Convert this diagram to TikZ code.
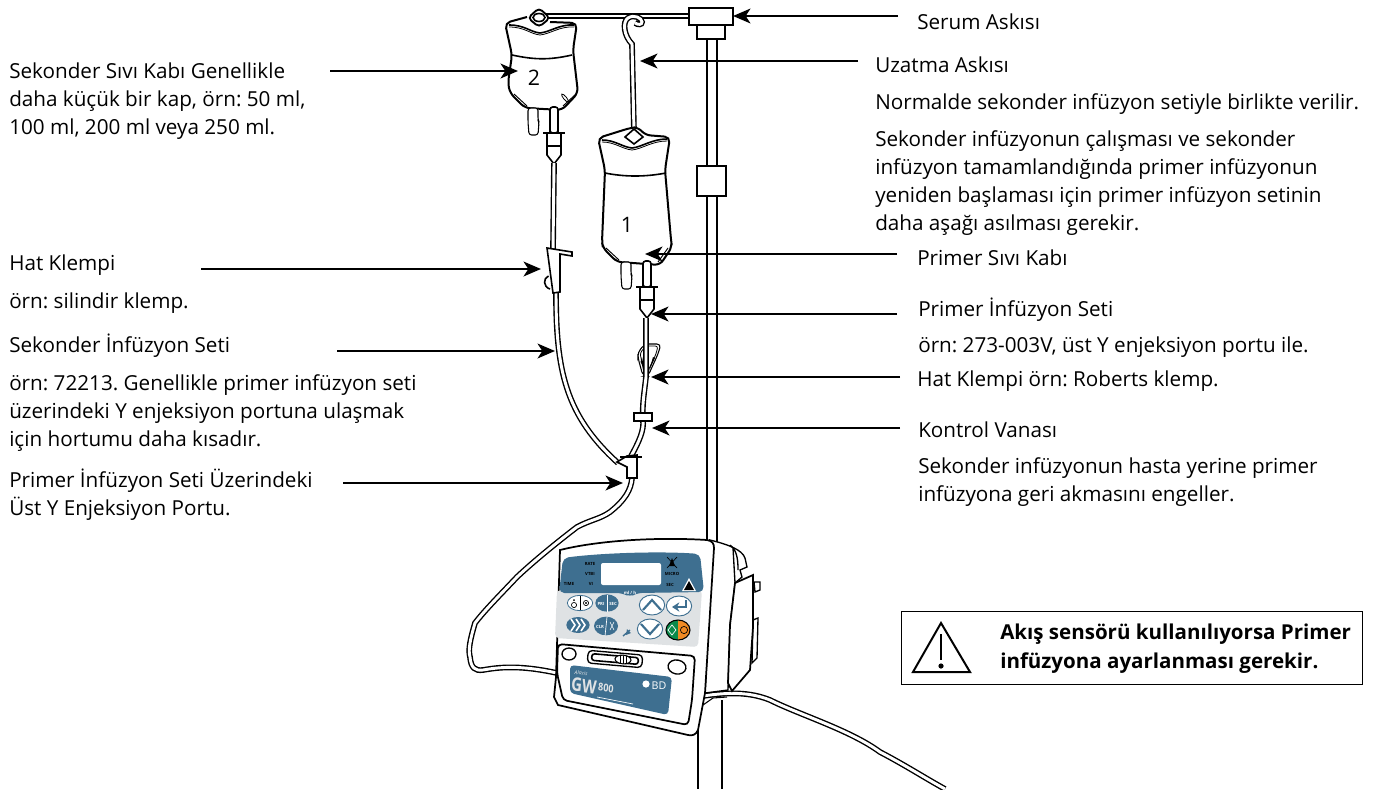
\documentclass[tikz,border=0pt]{standalone}
\usepackage{fontspec}
\setmainfont{Open Sans}
\usepackage{xcolor}
\usetikzlibrary{arrows.meta,calc,positioning,shapes.geometric}
\definecolor{panelblue}{HTML}{3E6F90}
\definecolor{keygrey}{HTML}{DFE2E4}
\definecolor{gogreen}{HTML}{0B8A4B}
\definecolor{stoporange}{HTML}{F08A24}
\newcommand{\dripset}[2]{%
  \begin{scope}[shift={(#1,#2)}]
    \draw[line width=.8pt,fill=white,rounded corners=2pt] (-26,-25) -- (-16,-25) -- (-16,-13) -- (-15,-11) -- (-16,2) -- (-25,2) -- (-26,-11) -- cycle;
    \draw[part,fill=white,rounded corners=2pt] (-4,-26) -- (4,-26) -- (4,0) -- (-4,0) -- cycle;
    \draw[line width=1.4pt] (-4,-12) -- (-4,0) (4,-12) -- (4,0);
    \draw[part,fill=white] (-7,0) -- (7,0) -- (7,22) -- (0,31) -- (-7,22) -- cycle;
    \draw[part] (-7,13) -- (7,13);
    \draw[line width=1.2pt] (-11,0) -- (11,0);
  \end{scope}}
\begin{document}
\frenchspacing
\begin{tikzpicture}[x=0.75pt,y=-0.75pt,>=Latex,
    labeltext/.style={anchor=west,inner sep=0pt,align=left,
      font=\fontsize{15.5}{21.2}\selectfont},
    pointer/.style={line width=2.1pt,-{Stealth[length=13pt,width=11pt,inset=3.5pt]}},
    part/.style={line width=1.2pt},
    tube/.style={line width=1.05pt,double=white,double distance=2.2pt},
    key/.style={ellipse,draw=none,fill=panelblue,inner sep=0pt},
    tinytext/.style={inner sep=0pt,font=\fontsize{3.2}{4}\selectfont\bfseries}]
  \useasboundingbox (0,0) rectangle (1376,789);

  % left column
  \node[labeltext] (secbagtext) at (9,101)
    {Sekonder Sıvı Kabı Genellikle\\daha küçük bir kap, örn: 50 ml,\\100 ml, 200 ml veya 250 ml.};
  \node[labeltext] (clamptext) at (9,265) {Hat Klempi};
  \node[labeltext] (clampnote) at (9,303) {örn: silindir klemp.};
  \node[labeltext] (secsettext) at (9,346) {Sekonder İnfüzyon Seti};
  \node[labeltext] (secsetnote) at (9,413)
    {örn: 72213. Genellikle primer infüzyon seti\\üzerindeki Y enjeksiyon portuna ulaşmak\\için hortumu daha kısadır.};
  \node[labeltext] (yporttext) at (9,495)
    {Primer İnfüzyon Seti Üzerindeki\\Üst Y Enjeksiyon Portu.};

  % right column
  \node[labeltext] (poletext) at (917,22) {Serum Askısı};
  \node[labeltext] (hooktext) at (875,65) {Uzatma Askısı};
  \node[labeltext] (hooknote) at (875,104) {Normalde sekonder infüzyon setiyle birlikte verilir.};
  \node[labeltext] (primernote) at (875,183)
    {Sekonder infüzyonun çalışması ve sekonder\\infüzyon tamamlandığında primer infüzyonun\\yeniden başlaması için primer infüzyon setinin\\daha aşağı asılması gerekir.};
  \node[labeltext] (pribagtext) at (917,258) {Primer Sıvı Kabı};
  \node[labeltext] (prisettext) at (918,310) {Primer İnfüzyon Seti};
  \node[labeltext] (prisetnote) at (918,347) {örn: 273-003V, üst Y enjeksiyon portu ile.};
  \node[labeltext] (robertstext) at (917,381) {Hat Klempi örn: Roberts klemp.};
  \node[labeltext] (valvetext) at (918,430) {Kontrol Vanası};
  \node[labeltext] (valvenote) at (918,482)
    {Sekonder infüzyonun hasta yerine primer\\infüzyona geri akmasını engeller.};

  % pole and hanger
  \draw[line width=1.7pt] (698,705) -- (698,789) (722,700) -- (722,789);
  \draw[part,fill=white] (707,30) rectangle (717,545);
  \draw[part,fill=white] (540,14) rectangle (690,18);
  \draw[part,fill=white] (689,8) rectangle (733,25);
  \draw[part,fill=white] (697,25) rectangle (725,39);
  \draw[part,fill=white] (697,166) rectangle (726,196);

  % extension hook
  \draw[tube] (634,132) -- (632,44) .. controls (624,36) and (622,22) .. (628,18)
    .. controls (634,14) and (642,18) .. (642,22) .. controls (642,25) and (638,25) .. (635,23);

  % secondary bag
  \draw[line width=1.5pt,fill=white,rounded corners=4pt] (550,22) -- (577,23) -- (573,50) -- (578,93)
    -- (562,110) -- (525,108) -- (510,93) -- (508,83) -- (512,55) -- (505,23) -- (527,17);
  \draw[part] (512,55) .. controls (535,60) and (550,60) .. (572,55);
  \draw[part] (509,25) .. controls (525,25) and (530,32) .. (540,33) .. controls (550,32) and (560,24) .. (574,25);
  \draw[line width=.6pt] (509,27) .. controls (525,27) and (530,34) .. (540,35) .. controls (550,34) and (560,26) .. (574,27);
  \draw[line width=1.4pt,fill=white,rounded corners=3pt] (528,18) -- (539,8) -- (550,18) -- (539,27) -- cycle;
  \draw[part] (539,17.5) ellipse [x radius=6,y radius=4];
  \draw[line width=.6pt,rotate around={-50:(565,98)}] (565,98) ellipse [x radius=5,y radius=1.5];
  \draw[line width=.7pt] (514,94) -- (527,106) (576,94) -- (563,106);
  \dripset{554}{133}
  \node[inner sep=0pt,font=\fontsize{16}{18}\selectfont] (bagtwo) at (534,78) {2};

  % primary bag
  \draw[line width=1.5pt,fill=white,rounded corners=4pt] (598,138) -- (630,128) -- (638,127) -- (645,135)
    -- (670,137) -- (665,170) -- (671,240) -- (672,247) -- (660,265) -- (633,263) -- (617,262) -- (603,248)
    -- (602,242) -- (605,170) -- cycle;
  \draw[part] (605,173) .. controls (625,177) and (645,177) .. (666,173);
  \draw[part] (602,140) .. controls (615,140) and (622,147) .. (632,148) .. controls (642,147) and (652,139) .. (667,139);
  \draw[line width=.6pt] (602,142) .. controls (615,142) and (622,149) .. (632,150) .. controls (642,149) and (652,141) .. (667,141);
  \draw[part,fill=white] (625,137) -- (634,129) -- (643,137) -- (634,144) -- cycle;
  \draw[line width=.7pt] (606,248) -- (619,260) (668,248) -- (658,262);
  \dripset{647}{287}
  \node[inner sep=0pt,font=\fontsize{16}{18}\selectfont] (bagone) at (627,225) {1};

  % secondary line with its clamp
  \draw[tube] (554,163) -- (553,250);
  \draw[tube] (556,292) .. controls (556,370) and (565,415) .. (618,463);
  \draw[part,fill=white] (547,248) -- (572,252) -- (572,256) -- (560,254) -- (560,292) -- (553,293) -- cycle;
  \draw[part] (548.5,276) .. controls (543,278) and (543,287) .. (550,289);

  % primary line, clamp, valve, Y port
  \draw[line width=.8pt,fill=white,rounded corners=3pt] (638,352) -- (645,344) -- (661,344) -- (658,354) -- (648,376) -- (643,376) -- (638,358) -- cycle;
  \draw[line width=.6pt,rounded corners=2pt] (640,353) -- (646,346) -- (658,346) -- (656,354) -- (647,373) -- (644,373) -- cycle;
  \draw[tube] (646,318) -- (646,377) .. controls (644,395) and (642,405) .. (643,420)
    .. controls (644,430) and (640,440) .. (630,458);
  \fill (642,357) -- (644,368) -- (640.5,362) -- cycle (653,357) -- (649,371) -- (655,358) -- cycle;
  \draw[part,fill=white] (634,413) rectangle (652,421);
  \draw[tube] (632,478) .. controls (631,490) and (625,500) .. (610,512)
    .. controls (600,519) and (590,520) .. (577,527) .. controls (560,540) and (535,560) .. (517,577)
    .. controls (500,595) and (485,610) .. (475,623) .. controls (470,640) and (468,650) .. (470,657)
    .. controls (471,668) and (475,671) .. (483,670) .. controls (500,667) and (520,665) .. (557,673);
  \draw[part,fill=white] (617,462) -- (627,456) -- (637,455) -- (637,478) -- (627,478) -- (627,467) -- cycle;
  \draw[part] (620,457) -- (642,457);

  % pump body
  \draw[tube] (690,698) .. controls (720,693) and (745,690) .. (770,700)
    .. controls (800,715) and (850,730) .. (880,752) .. controls (905,765) and (925,778) .. (945,789);
  \draw[line width=1pt,fill=white] (742,577) -- (740,570) -- (747,567) -- (745,558) .. controls (742,550) and (730,545) .. (710,540)
    -- (713,547) -- (705,693) -- (728,690) -- (730,625) -- (735,583) -- cycle;
  \draw[line width=1pt] (730,545) .. controls (736,550) and (738,556) .. (738,570) (733,548) -- (735,583);
  \draw[line width=1pt,fill=white] (754,582) -- (760,582) -- (760,590) -- (755,592) -- cycle;
  \draw[line width=1pt,fill=white] (753,620) -- (758,618) -- (757,658) -- (752,663) -- cycle;
  \draw[line width=1.3pt,fill=white] (735,583) -- (753,575) -- (753,627) -- (750,670) -- (732,691) -- (728,683) -- (730,625) -- cycle;
  \draw[line width=1.3pt,fill=white] (560,550) .. controls (600,540) and (660,537) .. (707,540) .. controls (712,541) and (714,543) .. (714,548)
    -- (705,693) -- (698,730) .. controls (696,735) and (692,736) .. (688,735) -- (558,705) -- (554,697) -- (556,677) -- cycle;
  \draw[line width=1.3pt,rounded corners=3pt] (558,644) -- (695,656) -- (692,700) -- (688,725) -- (563,700) -- (557,673) -- cycle;
  \draw[line width=.8pt] (703,705) -- (713,698) -- (727,697);

  % keypad
  \fill[keygrey,rounded corners=3pt] (557,590) -- (702,590) -- (698,647) -- (555,638) -- cycle;
  \fill[panelblue,rounded corners=4pt] (563,558) .. controls (600,553) and (660,551) .. (700,554) -- (704,592)
    -- (637,593) -- (630,597) -- (622,593) -- (559,593) -- cycle;
  \node[fill=white,rounded corners=1.5pt,minimum width=45pt,minimum height=16.5pt,inner sep=0pt] (display) at (631,574) {};
  \foreach \name/\x/\y/\txt in {rate/590/564/RATE,vtbi/590/574/VTBI,time/569/584/TIME,vinf/591/584/VI,micro/672/574/MICRO,sec/670/585/SEC}
    \node[tinytext,text=black] (\name) at (\x,\y) {\txt};
  \draw[line width=.5pt] (667,557) -- (677,568) (677,557) -- (667,568);
  \fill (672,558) -- (675,566) -- (669,566) -- cycle;
  \fill[white] (689,578) -- (696,591) -- (682,591) -- cycle;
  \fill[black] (689,581) -- (694,590) -- (684,590) -- cycle;
  \node[tinytext,text=white] (mlh) at (630,593) {ml / h};

  \node[key,draw=panelblue,fill=white,line width=.6pt,minimum width=19pt,minimum height=11.5pt] (nurse) at (580,603) {};
  \draw[line width=.6pt] (580,596) -- (580,610);
  \draw[line width=.5pt] (574,605) circle [radius=2.6] (586,603) circle [radius=2.6];
  \fill (574,600) circle [radius=1] (586,603) circle [radius=1.2];
  \node[key,minimum width=17.5pt,minimum height=13pt] (prisec) at (607,603) {};
  \draw[white,line width=.5pt] (607,595) -- (607,612);
  \node[tinytext,text=white] (pri) at (601,604) {PRI};
  \node[tinytext,text=white] (secb) at (613,604) {SEC};
  \node[key,minimum width=17.5pt,minimum height=12pt] (start) at (578,625) {};
  \foreach \x in {571,576,581}
    \draw[white,line width=1.2pt] (\x,619) -- (\x+4,625) -- (\x,631);
  \node[key,minimum width=18pt,minimum height=14pt] (clr) at (606,626) {};
  \draw[white,line width=.5pt] (607,617) -- (605,636);
  \node[tinytext,text=white] (clrb) at (600,627) {CLR};
  \draw[white,line width=.4pt] (610,622) -- (614,630) (614,622) -- (610,630);
  \draw[panelblue,line width=1pt] (623,636) -- (630,630);
  \fill[panelblue] (627,629) -- (631,633) -- (626,635) -- cycle;
  \foreach \name/\x/\y in {upkey/652/605,enter/679/606,downkey/650/629}
    \node[key,draw=panelblue,fill=white,line width=.7pt,minimum width=19pt,minimum height=15pt] (\name) at (\x,\y) {};
  \draw[panelblue,line width=1.6pt] (643,610) -- (652,600) -- (661,610);
  \draw[panelblue,line width=1.6pt] (641,624) -- (650,634) -- (659,624);
  \draw[panelblue,line width=1.8pt,-{Stealth[length=5.5pt,width=7pt]}] (686,600) -- (686,607) -- (672,607);
  \begin{scope}
    \clip (678,630) ellipse [x radius=12,y radius=10];
    \fill[gogreen] (666,620) rectangle (678,640);
    \fill[stoporange] (678,620) rectangle (690,640);
  \end{scope}
  \node[ellipse,draw=black,line width=.8pt,minimum width=18pt,minimum height=15pt,inner sep=0pt] (stopgo) at (678,630) {};
  \draw[white,line width=.5pt] (672,625) -- (676,630) -- (672,635) -- (668,630) -- cycle;
  \draw[black,line width=.5pt] (684,630) circle [radius=3.6];

  % lower panel
  \node[draw,line width=1pt,ellipse,minimum width=10.5pt,minimum height=9pt,inner sep=0pt] (leftscrew) at (569,654) {};
  \node[draw,line width=1pt,ellipse,minimum width=13.5pt,minimum height=10.5pt,inner sep=0pt,rotate=-10] (rightscrew) at (677,667) {};
  \node[draw,line width=1pt,rounded corners=3pt,minimum width=41pt,minimum height=9.5pt,inner sep=0pt,rotate=-5] (slot) at (615,659) {};
  \node[draw,line width=1.2pt,rounded corners=2pt,minimum width=35pt,minimum height=5pt,inner sep=0pt,rotate=-5] (slotin) at (615,659) {};
  \node[draw,line width=.8pt,fill=white,ellipse,minimum width=12pt,minimum height=6.5pt,inner sep=0pt,rotate=-5] (wheel) at (623,659.5) {};
  \foreach \x in {620,623,626}
    \draw[line width=.6pt] (\x,655.5) -- (\x,663.5);
  \fill[panelblue,rounded corners=3pt] (570,665) -- (672,677) -- (668,715) -- (570,693) -- cycle;
  \node[inner sep=0pt,text=keygrey,rotate=-6,font=\fontsize{4}{5}\selectfont\itshape] (brand) at (581,673) {Alaris};
  \node[inner sep=0pt,text=keygrey,xscale=.8,rotate=-6,font=\fontsize{14}{16}\selectfont\bfseries] (gwmark) at (584,686) {GW};
  \node[inner sep=0pt,text=keygrey,xscale=.85,rotate=-6,font=\fontsize{8}{9}\selectfont\bfseries] (modelno) at (606,688) {800};
  \node[inner sep=0pt,text=white,font=\fontsize{8}{9}\selectfont] (maker) at (659,686) {BD};
  \fill[white] (646,684) circle [radius=3.6];
  \draw[white,line width=.5pt] (597,697) -- (633,704);

  % warning
  \node[draw,line width=1pt,minimum width=345.75pt,minimum height=54.75pt,inner sep=0pt,anchor=north west] (warnbox) at (901,611) {};
  \draw[line width=1.5pt,line join=miter] (941,623) -- (970,672) -- (913,672) -- cycle;
  \draw[line width=1.6pt] (941,634) -- (941,660);
  \fill (941,666) circle [radius=2.6];
  \node[labeltext,font=\fontsize{15.4}{21.8}\selectfont\bfseries] (warntext) at (1000,649)
    {Akış sensörü kullanılıyorsa Primer\\infüzyona ayarlanması gerekir.};

  \foreach \name/\xa/\xb/\y in {pole/898/733/16,hook/858/640/61,secbag/330/518/71,pribag/897/645/254,
      priset/897/651/314,roberts/900/651/377,valve/900/652/428,clamp/201/541/269,secset/337/555/351,yport/343/623/483} {
    \coordinate (\name from) at (\xa,\y);
    \coordinate (\name tip) at (\xb,\y);
    \draw[pointer] (\name from) -- (\name tip);
  }
\end{tikzpicture}
\end{document}
